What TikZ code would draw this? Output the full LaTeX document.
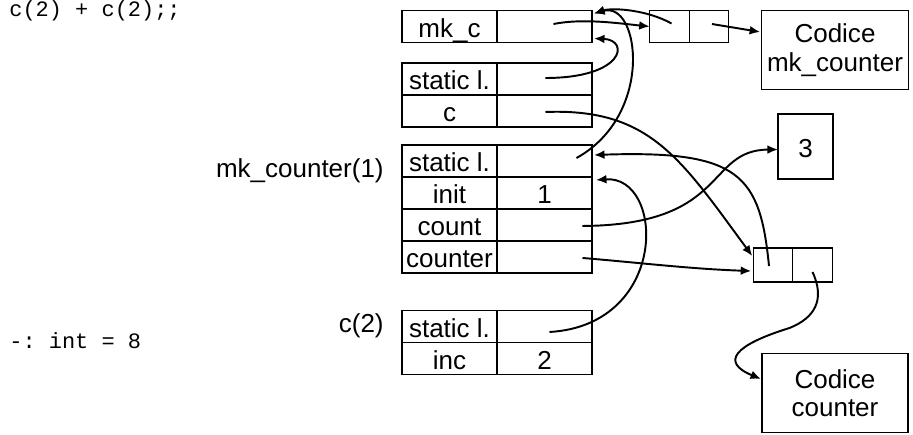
\documentclass[tikz,border=0pt]{standalone}
\usepackage{fontspec}
\setmainfont{Liberation Sans}
\setmonofont{Liberation Mono}
\usetikzlibrary{positioning, calc, arrows.meta}

\tikzset{
    cell/.style = {draw, line width = 0.8pt, outer sep = 0pt, inner sep = 0pt,
        minimum width = 1.9cm, minimum height = 0.64cm,
        text height = 0.44cm, text depth = 0pt, font = \fontsize{14.8}{18}\selectfont},
    ptr/.style = {draw, line width = 0.8pt, outer sep = 0pt, inner sep = 0pt,
        minimum width = 0.79cm, minimum height = 0.64cm},
    code/.style = {draw, line width = 0.8pt, outer sep = 0pt, align = center,
        minimum width = 2.92cm, minimum height = 1.58cm, font = \fontsize{14.8}{16.2}\selectfont},
    lbl/.style = {inner sep = 0pt, font = \fontsize{14.8}{18}\selectfont},
    tty/.style = {inner sep = 0pt, font = \ttfamily\fontsize{12.5}{15}\selectfont},
    arr/.style = {line width = 1.1pt, -{Latex[length = 6pt, width = 5pt]}}
}

\begin{document}
\begin{tikzpicture}[x = 0.02cm, y = -0.02cm]
            \useasboundingbox (0, 0) rectangle (913, 435);
            \node[tty, anchor = base west] (cmd) at (9, 17) {c(2) + c(2);;};
            \node[tty, anchor = base west] (res) at (9, 349) {-: int = 8};

            \node[cell] (mkc) at (449.5, 26.5) {mk\_c};
            \node[cell, right = 0pt of mkc] (mkcv) {};
            \node[cell] (gsl) at (449.5, 79) {static l.};
            \node[cell, right = 0pt of gsl] (gslv) {};
            \node[cell, below = 0pt of gsl] (gc) {c};
            \node[cell, right = 0pt of gc] (gcv) {};

            \node[cell] (msl) at (449.5, 161) {static l.};
            \node[cell, right = 0pt of msl] (mslv) {};
            \node[cell, below = 0pt of msl] (mini) {init};
            \node[cell, right = 0pt of mini] (miniv) {1};
            \node[cell, below = 0pt of mini] (mcnt) {count};
            \node[cell, right = 0pt of mcnt] (mcntv) {};
            \node[cell, below = 0pt of mcnt] (mctr) {counter};
            \node[cell, right = 0pt of mctr] (mctrv) {};
            \node[lbl, anchor = base east] (mlbl) at (384, 178) {mk\_counter(1)};

            \node[cell] (csl) at (449.5, 326.5) {static l.};
            \node[cell, right = 0pt of csl] (cslv) {};
            \node[cell, below = 0pt of csl] (cinc) {inc};
            \node[cell, right = 0pt of cinc] (cincv) {2};
            \node[lbl, anchor = base east] (clbl) at (384, 333) {c(2)};

            \node[ptr] (fa) at (669.5, 26.5) {};
            \node[ptr, right = 0pt of fa] (fb) {};
            \node[code] (cdm) at (835, 50) {Codice\\mk\_counter};
            \node[cell, minimum width = 1.1cm, minimum height = 1.3cm] (three) at (805.5, 146.5) {3};
            \node[ptr, minimum height = 0.68cm] (ga) at (773, 265) {};
            \node[ptr, minimum height = 0.68cm, right = 0pt of ga] (gb) {};
            \node[code] (cdc) at (835, 393) {Codice\\counter};

            \draw[arr] ($(mkcv) + (9, -2.5)$) .. controls +(30, -6) and +(-30, -3) .. (fa.west);
            \draw[arr] ($(fa) + (2, -3)$) .. controls +(-25, -14) and +(18, -6) .. ($(mkcv.north east) + (2, 3)$);
            \draw[arr] ($(mslv) + (32, -3)$) .. controls +(78, -43) and +(46, -13) .. ($(mkcv.north east) + (2, 3)$);
            \draw[arr] ($(gslv) + (1, -1)$) .. controls +(79, 0) and +(36, 1.5) .. ($(mkcv.south east) + (2, -4)$);
            \draw[arr] ($(gcv) + (1, 1)$) .. controls +(104, -4) and +(-72, -98) .. ($(ga.north west) + (-1, 8)$);
            \draw[arr] ($(mcntv) + (38, 1)$) .. controls +(147, -1) and +(-73, 0.5) .. ($(three.west) + (0, 3)$);
            \draw[arr] ($(mctrv) + (38, 1)$) .. controls +(60, 5) and +(-60, -2) .. ($(ga.west) + (-2, 6)$);
            \draw[arr] ($(ga) + (-4, 1)$) .. controls +(-9, -91) and +(146, -5) .. ($(mslv.east) + (2, -6)$);
            \draw[arr] ($(cslv) + (5, 5.5)$) .. controls +(120, -7) and +(69, -5) .. ($(miniv.north east) + (4, 3)$);
            \draw[arr] ($(gb) + (0, 7)$) .. controls +(13, 28) and +(25, -10) .. ($(gb) + (-23, 63)$)
                .. controls +(-55, 17) and +(-41, -17) .. ($(cdc.west) + (-1, -14)$);
            \draw[arr] ($(fb) + (3, -2.5)$) -- ($(cdm.west) + (-1, -18)$);
        \end{tikzpicture}
\end{document}
